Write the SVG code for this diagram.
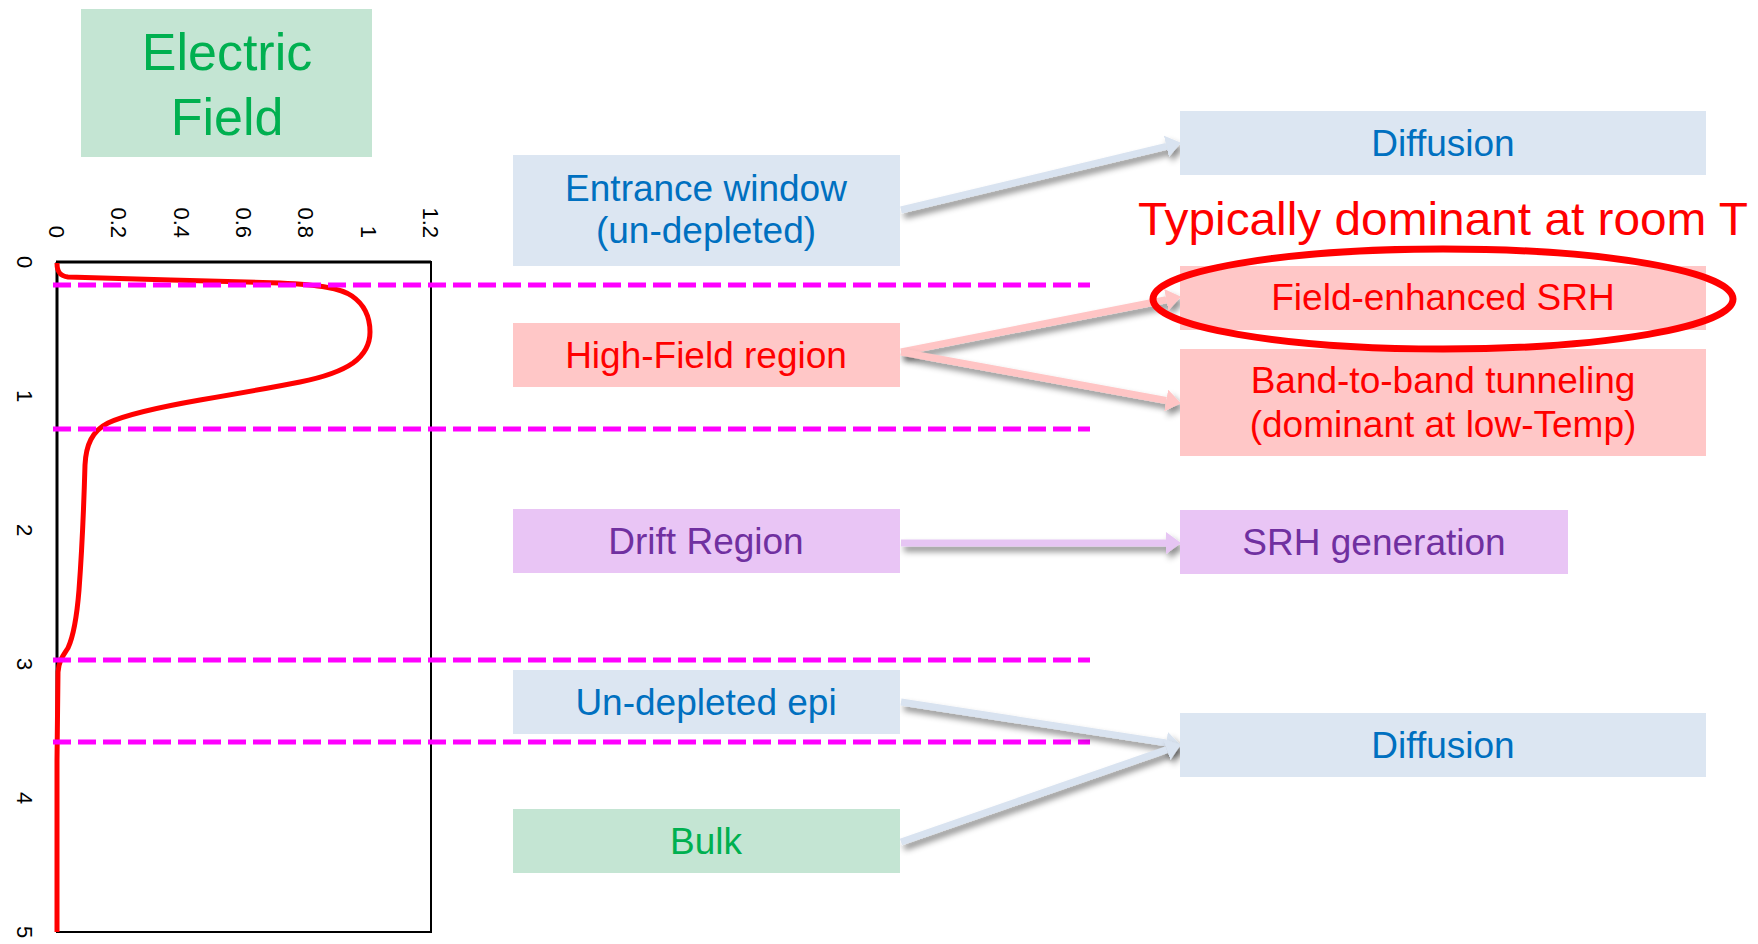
<svg xmlns="http://www.w3.org/2000/svg" width="1758" height="944" viewBox="0 0 1758 944">
<style>
text{font-family:"Liberation Sans",Arial,sans-serif;}
.lbl{font-size:37px;text-anchor:middle;}
.ax{font-size:22px;fill:#000;}
.blue{fill:#dce6f2;} .blueT{fill:#0070c0;}
.pink{fill:#ffc7c7;} .pinkT{fill:#ff0000;}
.purp{fill:#e9c5f5;} .purpT{fill:#7030a0;}
.green{fill:#c4e5d3;} .greenT{fill:#00b050;}
.dash{stroke:#ff00ff;stroke-width:5;stroke-dasharray:18 7;fill:none;}
.arr{stroke-width:7;fill:none;filter:url(#sh);}
</style>
<defs>
<filter id="sh" filterUnits="userSpaceOnUse" x="0" y="0" width="1758" height="944">
<feDropShadow dx="3" dy="5" stdDeviation="3" flood-color="#000" flood-opacity="0.45"/>
</filter>
<marker id="mb" markerUnits="userSpaceOnUse" markerWidth="16" markerHeight="22" refX="0" refY="11" orient="auto"><path d="M0,0 L15,11 L0,22 z" fill="#d9e3f0"/></marker>
<marker id="mp" markerUnits="userSpaceOnUse" markerWidth="16" markerHeight="22" refX="0" refY="11" orient="auto"><path d="M0,0 L15,11 L0,22 z" fill="#ffc5c5"/></marker>
<marker id="mv" markerUnits="userSpaceOnUse" markerWidth="16" markerHeight="22" refX="0" refY="11" orient="auto"><path d="M0,0 L15,11 L0,22 z" fill="#e6c5f3"/></marker>
</defs>
<rect width="1758" height="944" fill="#fff"/>

<g id="chart">
<rect x="57" y="262" width="374" height="670" fill="none" stroke="#000" stroke-width="2"/>
<line x1="57" y1="262" x2="57" y2="932" stroke="#000" stroke-width="3"/>
<line x1="56" y1="262" x2="431" y2="262" stroke="#000" stroke-width="3"/>
<g class="ax">
<text transform="translate(49,238) rotate(90)" text-anchor="end">0</text>
<text transform="translate(111,238) rotate(90)" text-anchor="end">0.2</text>
<text transform="translate(174,238) rotate(90)" text-anchor="end">0.4</text>
<text transform="translate(236,238) rotate(90)" text-anchor="end">0.6</text>
<text transform="translate(298,238) rotate(90)" text-anchor="end">0.8</text>
<text transform="translate(361,238) rotate(90)" text-anchor="end">1</text>
<text transform="translate(423,238) rotate(90)" text-anchor="end">1.2</text>
<text transform="translate(17,262) rotate(90)" text-anchor="middle">0</text>
<text transform="translate(17,396) rotate(90)" text-anchor="middle">1</text>
<text transform="translate(17,530) rotate(90)" text-anchor="middle">2</text>
<text transform="translate(17,664) rotate(90)" text-anchor="middle">3</text>
<text transform="translate(17,798) rotate(90)" text-anchor="middle">4</text>
<text transform="translate(17,932) rotate(90)" text-anchor="middle">5</text>
</g>
<path d="M57,263 C57,272 60,276 68,277 C130,279 220,281 280,283 C320,285 340,288 352,296 C365,305 370,318 370,332 C370,345 364,355 353,363 C340,372 320,378 300,382 C270,388 235,394 200,400 C160,407 125,415 108,423 C92,431 86,445 85,465 C84,500 82,550 79,590 C77,615 74,635 68,648 C63,656 59,660 58,672 L57,760 L57,932" fill="none" stroke="#ff0000" stroke-width="5" stroke-linejoin="round"/>
</g>

<g id="dashes">
<line class="dash" x1="53" y1="285" x2="1090" y2="285"/>
<line class="dash" x1="53" y1="429" x2="1090" y2="429"/>
<line class="dash" x1="53" y1="660" x2="1090" y2="660"/>
<line class="dash" x1="53" y1="742" x2="1090" y2="742"/>
</g>

<g id="title">
<rect class="green" x="81" y="9" width="291" height="148"/>
<text class="greenT" x="227" y="70" font-size="52" text-anchor="middle">Electric</text>
<text class="greenT" x="227" y="135" font-size="52" text-anchor="middle">Field</text>
</g>

<g id="connectors">
<line class="arr" stroke="#d9e3f0" x1="901" y1="210" x2="1166.4" y2="146.3" marker-end="url(#mb)"/>
<line class="arr" stroke="#ffc5c5" x1="901" y1="352" x2="1166.3" y2="299.7" marker-end="url(#mp)"/>
<line class="arr" stroke="#ffc5c5" x1="901" y1="352" x2="1166.2" y2="400.5" marker-end="url(#mp)"/>
<line class="arr" stroke="#e6c5f3" x1="901" y1="543" x2="1166" y2="543" marker-end="url(#mv)"/>
<line class="arr" stroke="#d9e3f0" x1="901" y1="702" x2="1166.2" y2="742.9" marker-end="url(#mb)"/>
<line class="arr" stroke="#d9e3f0" x1="901" y1="842" x2="1166.8" y2="749.6" marker-end="url(#mb)"/>
</g>

<g id="entrance">
<rect class="blue" x="513" y="155" width="387" height="111"/>
<text class="lbl blueT" x="706" y="201">Entrance window</text>
<text class="lbl blueT" x="706" y="243">(un-depleted)</text>
</g>
<g id="highfield">
<rect class="pink" x="513" y="323" width="387" height="64"/>
<text class="lbl pinkT" x="706" y="368">High-Field region</text>
</g>
<g id="drift">
<rect class="purp" x="513" y="509" width="387" height="64"/>
<text class="lbl purpT" x="706" y="554">Drift Region</text>
</g>
<g id="undepleted">
<rect class="blue" x="513" y="670" width="387" height="64"/>
<text class="lbl blueT" x="706" y="715">Un-depleted epi</text>
</g>
<g id="bulk">
<rect class="green" x="513" y="809" width="387" height="64"/>
<text class="lbl greenT" x="706" y="854">Bulk</text>
</g>

<g id="diffusion-top">
<rect class="blue" x="1180" y="111" width="526" height="64"/>
<text class="lbl blueT" x="1443" y="156">Diffusion</text>
</g>
<g id="note">
<text class="pinkT" x="1138" y="235" font-size="47" textLength="610" lengthAdjust="spacingAndGlyphs">Typically dominant at room T</text>
</g>
<g id="field-srh">
<rect class="pink" x="1180" y="266" width="526" height="64"/>
<text class="lbl pinkT" x="1443" y="310">Field-enhanced SRH</text>
</g>
<g id="btb">
<rect class="pink" x="1180" y="349" width="526" height="107"/>
<text class="lbl pinkT" x="1443" y="393">Band-to-band tunneling</text>
<text class="lbl pinkT" x="1443" y="437">(dominant at low-Temp)</text>
</g>
<g id="highlight">
<ellipse cx="1443" cy="299" rx="290" ry="50" fill="none" stroke="#ff0000" stroke-width="7"/>
</g>
<g id="srh-gen">
<rect class="purp" x="1180" y="510" width="388" height="64"/>
<text class="lbl purpT" x="1374" y="555">SRH generation</text>
</g>
<g id="diffusion-bottom">
<rect class="blue" x="1180" y="713" width="526" height="64"/>
<text class="lbl blueT" x="1443" y="758">Diffusion</text>
</g>
</svg>
